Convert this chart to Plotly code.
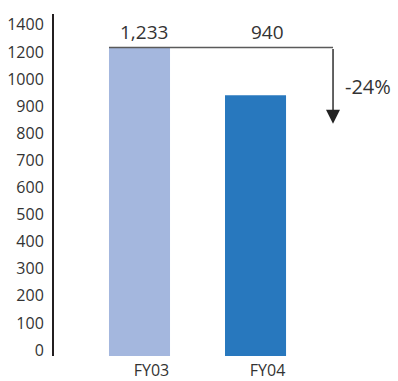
import numpy as np
import plotly.graph_objects as go

# ---- data ----
categories = ["FY03", "FY04"]
values = [1233, 940]
value_labels = ["1,233", "940"]
tick_values = [0, 100, 200, 300, 400, 500, 600, 700, 800, 900, 1000, 1200, 1400]
tick_labels = [str(v) for v in tick_values]

# ---- style ----
bar_colors = ["#A4B7DE", "#2878BE"]
text_color = "#333333"
font_family = "Open Sans, Noto Sans, sans-serif"
bar_width = 0.526
y_range = [-0.221, 12.40]
x_range = [-0.737, 2.228]
bracket_x = 1.668
arrow_tip = 8.35

# piecewise axis: ticks evenly spaced (index positions)
tick_pos = list(range(len(tick_values)))
mapped = np.interp(values, tick_values, tick_pos)
base = y_range[0]
xpos = list(range(len(categories)))

fig = go.Figure()
fig.add_trace(go.Bar(
    x=xpos, y=mapped - base, base=base,
    marker=dict(color=bar_colors, line=dict(width=0)),
    width=bar_width, hoverinfo="skip",
))

line_y = mapped[0]
fig.add_shape(type="line", x0=xpos[0] - bar_width / 2, x1=bracket_x,
              y0=line_y, y1=line_y, line=dict(color="#5a5a5a", width=1.6))
fig.add_annotation(x=bracket_x, y=arrow_tip, ax=bracket_x, ay=line_y,
                   axref="x", ayref="y", xref="x", yref="y",
                   showarrow=True, arrowhead=2, arrowsize=2, arrowwidth=1.4,
                   arrowcolor="#222222", text="", standoff=0)

shifts = [4, 11.5]
for i, (lab, sx) in enumerate(zip(value_labels, shifts)):
    fig.add_annotation(x=xpos[i], y=line_y, text=lab, showarrow=False,
                       xshift=sx, yshift=15, yanchor="middle",
                       font=dict(size=19, color=text_color, family=font_family))

pct = round((values[1] - values[0]) / values[0] * 100)
fig.add_annotation(x=bracket_x, y=line_y, text=f"{pct}%", showarrow=False,
                   xanchor="left", yanchor="middle", xshift=10, yshift=-39,
                   font=dict(size=20, color=text_color, family=font_family))

fig.update_layout(
    width=398, height=381,
    margin=dict(l=54, r=0, t=14, b=25),
    paper_bgcolor="white", plot_bgcolor="white",
    showlegend=False,
    font=dict(family=font_family, color=text_color),
    xaxis=dict(range=x_range, tickvals=xpos, ticktext=categories,
               showgrid=False, zeroline=False, showline=False, ticks="",
               tickfont=dict(size=16, color=text_color), ticklabelshift=12,
               ticklabelstandoff=3),
    yaxis=dict(range=y_range, tickvals=tick_pos, ticktext=tick_labels,
               showgrid=False, zeroline=False, showline=True,
               linecolor="#231f20", linewidth=2, ticks="",
               tickfont=dict(size=16, color=text_color), ticklabelstandoff=5),
)

fig.write_html("out.html")
